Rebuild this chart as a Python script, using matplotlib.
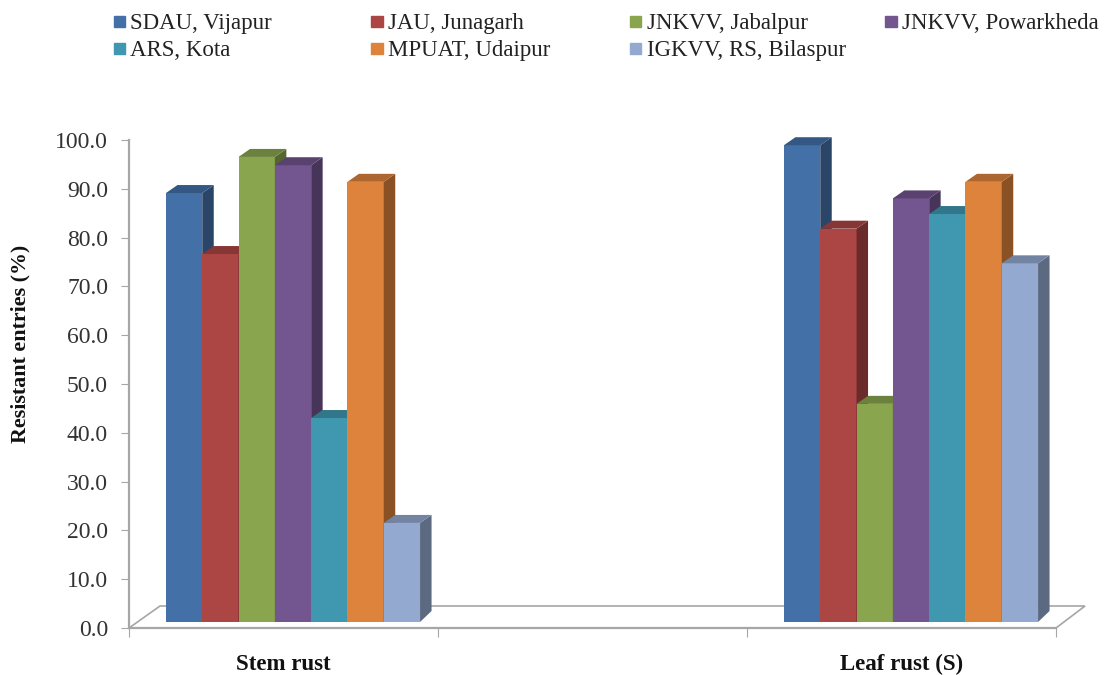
import matplotlib
matplotlib.use("Agg")
import matplotlib.pyplot as plt
from matplotlib.colors import to_rgb
from matplotlib.patches import Rectangle

plt.rcParams['font.family'] = ['Liberation Serif', 'DejaVu Serif']

categories = ["Stem rust", "", "Leaf rust (S)"]
names = ["SDAU, Vijapur", "JAU, Junagarh", "JNKVV, Jabalpur", "JNKVV, Powarkheda",
         "ARS, Kota", "MPUAT, Udaipur", "IGKVV, RS, Bilaspur"]
colors = ["#4470A8", "#AC4644", "#89A64E", "#73558F", "#4098B0", "#DE833C", "#93A9D0"]
stem_rust = [87.9, 75.4, 95.3, 93.6, 41.8, 90.2, 20.3]
leaf_rust = [97.7, 80.6, 44.7, 86.8, 83.6, 90.2, 73.5]
yticks = [0, 10, 20, 30, 40, 50, 60, 70, 80, 90, 100]

W, H = 1109, 675
fig = plt.figure(figsize=(W / 100, H / 100), dpi=100)
# plot box in pixels: x 129-1056, y 140-628
ax = fig.add_axes([129 / W, 1 - 628 / H, 927 / W, 488 / H])
ax.set_xlim(-0.5, 2.5)
ax.set_ylim(0, 100)

px_x = 3 / 927     # one pixel in x data units
px_y = 100 / 488   # one pixel in y data units
grey = "#A6A6A6"


def shade(c, f):
    r, g, b = to_rgb(c)
    return (r * f, g * f, b * f)


# floor of the 3d box
fx = [-0.5, -0.5 + 31 * px_x, 2.5 + 29 * px_x, 2.5]
fy = [0, 22 * px_y, 22 * px_y, 0]
ax.fill(fx, fy, facecolor="white", edgecolor=grey, lw=1.2, clip_on=False, zorder=1)

bar_w = 36.3 * px_x
base = 6 * px_y
dx = 11.5 * px_x
dy_base = 11 * px_y
dy_top = 8 * px_y
shift = 9.5 * px_x


def draw_group(center, vals):
    z = 3
    for i, v in enumerate(vals):
        x0 = center + shift + (i - 3.5) * bar_w
        x1 = x0 + bar_w
        top = base + v
        ax.bar(x0, v, bar_w, bottom=base, align="edge", color=colors[i], zorder=z, clip_on=False)
        ax.fill([x1, x1 + dx, x1 + dx, x1], [base, base + dy_base, top + dy_top, top],
                color=shade(colors[i], 0.62), lw=0, zorder=z, clip_on=False)
        ax.fill([x0, x0 + dx, x1 + dx, x1], [top, top + dy_top, top + dy_top, top],
                color=shade(colors[i], 0.78), lw=0, zorder=z, clip_on=False)
        z += 1


draw_group(0, stem_rust)
draw_group(2, leaf_rust)

for s in ["top", "right"]:
    ax.spines[s].set_visible(False)
for s in ["left", "bottom"]:
    ax.spines[s].set_color(grey)
    ax.spines[s].set_linewidth(1.6)
    ax.spines[s].set_zorder(2)

ax.set_yticks(yticks)
ax.set_yticklabels([f"{t:.1f}" for t in yticks], fontsize=17, color="#333333")
ax.tick_params(axis="y", length=6.1, width=0.8, color=grey, pad=9)
ax.set_xticks([-0.5, 0.5, 1.5, 2.5])
ax.tick_params(axis="x", length=6.5, width=0.8, color=grey, labelbottom=False)
for pos, lab in enumerate(categories):
    ax.text(pos, -8.6, lab, ha="center", va="baseline", fontsize=16.5, fontweight="bold", color="#111111")

fig.text(20 / W, 1 - 344 / H, "Resistant entries (%)", rotation=90, ha="center", va="center",
         fontsize=15.8, fontweight="bold", color="#111111")

# legend laid out by hand, four columns
col_x = [113.5, 371, 630, 885]
row_base = [29, 56]
for i, name in enumerate(names):
    cx = col_x[i % 4]
    cy = row_base[i // 4]
    fig.add_artist(Rectangle((cx / W, 1 - (cy - 2.5) / H), 11.5 / W, 11 / H, color=colors[i],
                             transform=fig.transFigure))
    fig.text((cx + 17) / W, 1 - cy / H, name, ha="left", va="baseline", fontsize=16.5, color="#222222")

fig.savefig("out.png", dpi=100)
